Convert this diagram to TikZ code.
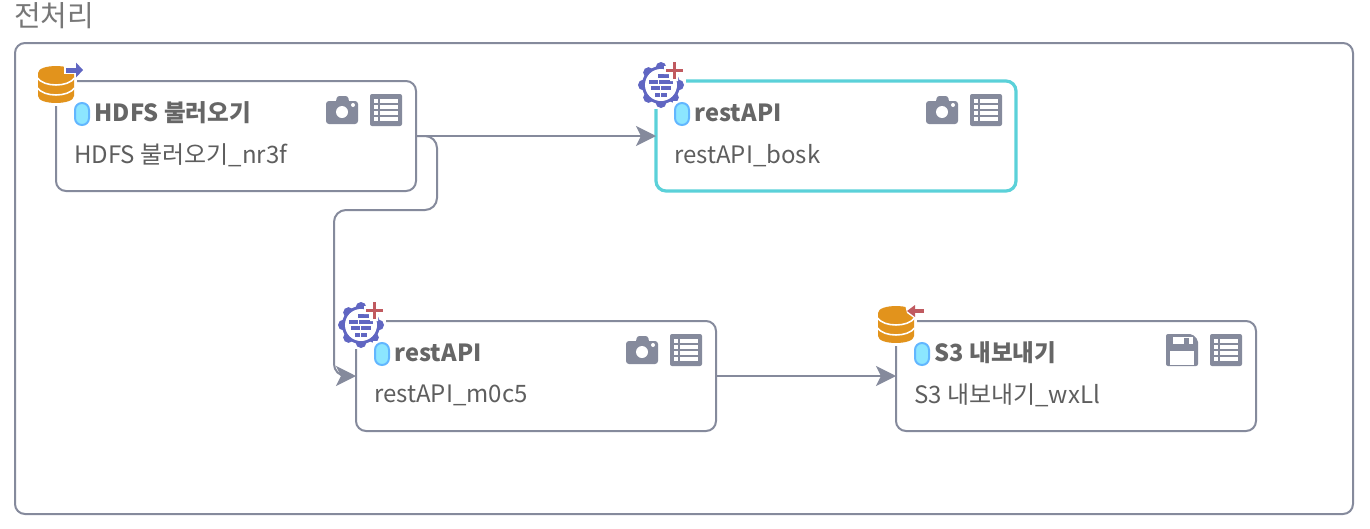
\documentclass[tikz,border=0pt]{standalone}
\usepackage{fontspec}
\setmainfont{Noto Sans CJK KR}
\usetikzlibrary{arrows.meta}
\definecolor{linegray}{HTML}{858A9C}
\definecolor{txtgray}{HTML}{666666}
\definecolor{subgray}{HTML}{5E5E5E}
\definecolor{titlegray}{HTML}{777777}
\definecolor{cyanline}{HTML}{5BD1D9}
\definecolor{pillfill}{HTML}{8CE6FF}
\definecolor{pillline}{HTML}{62B6FF}
\definecolor{dborange}{HTML}{E2931C}
\definecolor{gearpurple}{HTML}{6066C2}
\definecolor{plusred}{HTML}{C05A60}
\tikzset{
  x=1pt,y=-1pt,
  frame/.style={draw=linegray,line width=2pt,rounded corners=10pt,fill=white},
  taskbox/.style={draw=linegray,line width=2pt,rounded corners=10pt,fill=white,minimum width=360pt,minimum height=110pt,inner sep=0pt,outer sep=0pt},
  selbox/.style={taskbox,draw=cyanline,line width=3.2pt},
  conn/.style={draw=linegray,line width=2pt,-{Stealth[length=20pt,width=20pt,inset=5pt]}},
  titletxt/.style={anchor=west,inner sep=0pt,text=txtgray,font=\fontsize{23.6}{28}\selectfont\bfseries},
  subtxt/.style={anchor=west,inner sep=0pt,text=subgray,font=\fontsize{24}{28}\selectfont},
  pics/pill/.style={code={
    \fill[white] (-1,-1) rectangle (17,25);
    \draw[pillline,fill=pillfill,line width=2pt,rounded corners=6.9pt] (1,1) rectangle (15,23);
  }},
  pics/camicon/.style={code={
    \fill[linegray,rounded corners=3pt] (0,20) rectangle (32,43);
    \fill[linegray,rounded corners=2.5pt] (9,26) -- (11,15) -- (22,15) -- (24,26) -- cycle;
    \fill[white] (16,31) circle[radius=6pt];
    \fill[white] (27,24) circle[radius=2pt];
  }},
  pics/listicon/.style={code={
    \fill[linegray,rounded corners=2pt] (0,13) rectangle (32,45);
    \foreach \yy in {18,24,29.7,35.7}{
      \fill[white] (4,\yy) rectangle (8,\yy+4.3);
      \fill[white] (9.5,\yy) rectangle (28.3,\yy+4.3);
    }
  }},
  pics/saveicon/.style={code={
    \fill[linegray,rounded corners=2pt] (0,13) -- (26,13) -- (32,19) -- (32,45) -- (0,45) -- cycle;
    \fill[white] (6.7,15.7) rectangle (26.7,23);
    \fill[linegray] (18.3,17) rectangle (23.3,23);
    \fill[white] (4,30) rectangle (28.3,44);
  }},
  pics/dbbase/.style={code={
    \fill[white] (-20,-21) rectangle (21,21);
    \fill[dborange] (-18,-12) .. controls (-18,-21.3) and (18,-21.3) .. (18,-12)
       -- (18,11) .. controls (18,20.3) and (-18,20.3) .. (-18,11) -- cycle;
    \draw[white,line width=1.6pt] (-18.5,-7) .. controls (-12,2.3) and (12,2.3) .. (18.5,-7);
    \draw[white,line width=1.6pt] (-18.5,3) .. controls (-12,12.3) and (12,12.3) .. (18.5,3);
  }},
  pics/dbout/.style={code={
    \pic {dbbase};
    \fill[white] (8,-19) rectangle (21,-11);
    \fill[gearpurple] (10,-17.5) rectangle (21,-12.5);
    \fill[gearpurple] (20,-22.5) -- (27,-15) -- (20,-7.5) -- cycle;
  }},
  pics/dbin/.style={code={
    \pic {dbbase};
    \fill[white] (22,-20) -- (9,-20) -- (11,-12) -- (18,-7) -- (22,-7) -- cycle;
    \fill[plusred] (18,-16) rectangle (28,-12);
    \fill[plusred] (11,-14) -- (19,-20) -- (19,-8) -- cycle;
  }},
  pics/gear/.style={code={
    \fill[white] (-25,-25) rectangle (25,24);
    \fill[gearpurple] (0,0) circle[radius=19pt];
    \foreach \aa in {0,45,...,315}{\fill[gearpurple] (\aa:17.6) circle[radius=5.4pt];}
    \fill[white] (0,0) circle[radius=16pt];
    \fill[gearpurple] (-3,-11) rectangle (8,-7);
    \fill[gearpurple] (-12,-5) rectangle (-3,-1);
    \fill[gearpurple] (-2,-5) rectangle (12,-1);
    \fill[gearpurple] (-10,1.2) rectangle (-1,5.2);
    \fill[gearpurple] (0,1.2) rectangle (10,5.2);
    \fill[gearpurple] (-6,8) rectangle (-1,12);
    \fill[gearpurple] (0,8) rectangle (6,12);
    \fill[white] (9,-25) rectangle (17,-4) (3,-19) rectangle (23,-11);
    \fill[plusred] (11.7,-23) rectangle (14.7,-6);
    \fill[plusred] (4.7,-16.5) rectangle (21.7,-13.5);
  }}
}
\begin{document}
\begin{tikzpicture}
\useasboundingbox (0,0) rectangle (1370,528);
\node[anchor=west,inner sep=0pt,text=titlegray,font=\fontsize{29}{33}\selectfont] (title) at (14,16) {전처리};
\draw[frame] (15,43) rectangle (1353,514);

\node[taskbox] (hdfs) at (236,136) {};
\node[selbox] (bosk) at (836,136) {};
\node[taskbox] (rest) at (536,376) {};
\node[taskbox] (sthree) at (1076,376) {};

\coordinate (c1) at (437,136);
\coordinate (c2) at (437,210);
\coordinate (c3) at (334,210);
\coordinate (c4) at (334,376);
\draw[conn] (hdfs.east) -- (bosk.west);
\draw[conn,rounded corners=12pt] (hdfs.east) -- (c1) -- (c2) -- (c3) -- (c4) -- (rest.west);
\draw[conn] (rest.east) -- (sthree.west);

% HDFS
\pic at (56,85) {dbout};
\pic at (74,102) {pill};
\node[titletxt] (hdfst) at (94.5,113) {HDFS 불러오기};
\node[subtxt] (hdfss) at (74,155.5) {HDFS 불러오기\_nr3f};
\pic at (326,81) {camicon};
\pic at (370,81) {listicon};
% bosk
\pic at (661,85) {gear};
\pic at (674,102) {pill};
\node[titletxt] (boskt) at (694.5,113) {restAPI};
\node[subtxt] (boskS) at (674,155.5) {restAPI\_bosk};
\pic at (926,81) {camicon};
\pic at (970,81) {listicon};
% m0c5
\pic at (361,325) {gear};
\pic at (374,342) {pill};
\node[titletxt] (restt) at (394.5,353) {restAPI};
\node[subtxt] (rests) at (374,395.5) {restAPI\_m0c5};
\pic at (626,321) {camicon};
\pic at (670,321) {listicon};
% S3
\pic at (896,325) {dbin};
\pic at (914,342) {pill};
\node[titletxt] (stt) at (934.5,353) {S3 내보내기};
\node[subtxt] (sts) at (914,395.5) {S3 내보내기\_wxLl};
\pic at (1166,321) {saveicon};
\pic at (1210,321) {listicon};
\end{tikzpicture}
\end{document}
